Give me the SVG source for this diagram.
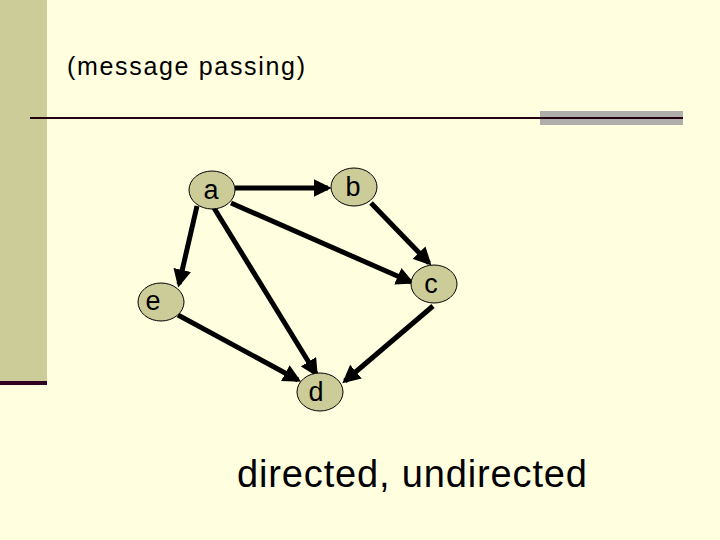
<svg xmlns="http://www.w3.org/2000/svg" width="720" height="540" viewBox="0 0 720 540">
<style>
.n{fill:#cccc99;stroke:#000;stroke-width:1}
.t{font-family:"Liberation Sans",Arial,sans-serif;font-size:27px;fill:#000;text-anchor:middle}
.e{stroke:#000;stroke-width:5;fill:none;marker-end:url(#ar)}
</style>
<defs><marker id="ar" viewBox="0 0 10 10" refX="8" refY="5" markerWidth="3.6" markerHeight="3.6" orient="auto" markerUnits="strokeWidth"><path d="M0,0 L10,5 L0,10 z" fill="#000"/></marker></defs>
<rect width="720" height="540" fill="#ffffe0"/>
<rect x="0" y="0" width="47" height="383" fill="#cccc99"/>
<rect x="0" y="381" width="47" height="4" fill="#330022"/>
<rect x="540" y="111" width="143" height="14" fill="#b0aeaa"/>
<line x1="30" y1="118" x2="683" y2="118" stroke="#220011" stroke-width="2"/>
<text x="67" y="75" font-family="Liberation Sans,Arial,sans-serif" font-size="25" textLength="238">(message passing)</text>
<text x="237" y="487" font-family="Liberation Sans,Arial,sans-serif" font-size="38" textLength="350">directed, undirected</text>
<g id="edges">
<line class="e" x1="235" y1="188" x2="328" y2="188"/>
<line class="e" x1="371" y1="203" x2="429" y2="263"/>
<line class="e" x1="231" y1="203" x2="411" y2="282"/>
<line class="e" x1="197" y1="206" x2="179" y2="284"/>
<line class="e" x1="214" y1="208" x2="316" y2="374"/>
<line class="e" x1="178" y1="315" x2="298" y2="380"/>
<line class="e" x1="433" y1="306" x2="345" y2="381"/>
</g>
<g id="a"><ellipse class="n" cx="212" cy="190" rx="23" ry="19"/><text class="t" x="211" y="199">a</text></g>
<g id="b"><ellipse class="n" cx="354" cy="187" rx="23" ry="19"/><text class="t" x="353" y="196">b</text></g>
<g id="c"><ellipse class="n" cx="434" cy="284" rx="23" ry="19"/><text class="t" x="431" y="293">c</text></g>
<g id="e"><ellipse class="n" cx="161" cy="302" rx="23" ry="19"/><text class="t" x="153" y="310">e</text></g>
<g id="d"><ellipse class="n" cx="320" cy="392" rx="23" ry="19"/><text class="t" x="316" y="401">d</text></g>
</svg>
